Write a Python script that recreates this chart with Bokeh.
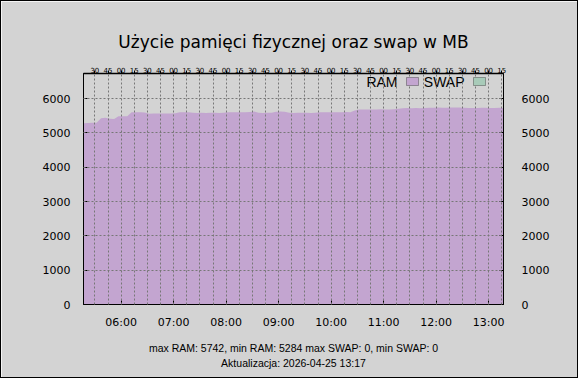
import pandas as pd
from bokeh.plotting import figure
from bokeh.models import (Range1d, DatetimeAxis, LinearAxis, FixedTicker, Title,
                          DatetimeTickFormatter, Label, BoxAnnotation, ColumnDataSource)
from bokeh.embed import file_html
from bokeh.resources import INLINE

# ---------------- data ----------------
title_text = "Użycie pamięci fizycznej oraz swap w MB"
day = "2026-04-25"
start_time = "05:17"
end_time = "13:17"
sample_step = "5min"

ram_mb = [
    5284, 5290, 5292, 5298, 5425, 5440, 5410, 5406, 5482, 5486,
    5488, 5598, 5603, 5601, 5596, 5558, 5562, 5566, 5561, 5564,
    5567, 5572, 5601, 5604, 5598, 5583, 5580, 5585, 5582, 5586,
    5584, 5581, 5590, 5600, 5598, 5602, 5600, 5603, 5605, 5621,
    5586, 5582, 5585, 5584, 5618, 5622, 5616, 5584, 5582, 5586,
    5583, 5585, 5581, 5590, 5598, 5601, 5603, 5600, 5604, 5602,
    5605, 5603, 5655, 5678, 5682, 5679, 5684, 5681, 5685, 5680,
    5683, 5686, 5702, 5721, 5724, 5718, 5722, 5719, 5725, 5731,
    5735, 5738, 5733, 5730, 5736, 5742, 5739, 5734, 5728, 5724,
    5727, 5733, 5729, 5724, 5726, 5730, 5728,
]
swap_mb = [0] * len(ram_mb)

hour_labels = ["06:00", "07:00", "08:00", "09:00", "10:00", "11:00", "12:00", "13:00"]
y_ticks = [0, 1000, 2000, 3000, 4000, 5000, 6000]
y_max = 6730

stats_line = "max RAM: 5742, min RAM: 5284 max SWAP: 0, min SWAP: 0"
update_line = "Aktualizacja: 2026-04-25 13:17"

# ---------------- styles ----------------
BG = "#d3d3d3"
RAM_C = "#c3a5d0"
SWAP_C = "#a8cbb9"
GRID_C = "#777777"

t0 = pd.Timestamp(f"{day} {start_time}")
t1 = pd.Timestamp(f"{day} {end_time}")
times = pd.date_range(t0, t1, freq=sample_step)
src = ColumnDataSource(dict(t=times, ram=ram_mb, swap=swap_mb))


def ms(ts):
    return ts.value // 10**6


hour_ms = [ms(pd.Timestamp(f"{day} {h}")) for h in hour_labels]
quarter_ms = [ms(t) for t in pd.date_range(pd.Timestamp(f"{day} 05:30"),
                                            pd.Timestamp(f"{day} 13:15"), freq="15min")]

p = figure(width=578, height=378, x_axis_type="datetime",
           x_range=Range1d(t0, t1), y_range=Range1d(0, y_max),
           output_backend="svg", toolbar_location=None,
           min_border_left=82, min_border_right=76,
           min_border_top=72, min_border_bottom=75,
           background_fill_color=BG, border_fill_color=BG)
p.styles = {"border": "1px solid black"}
p.outline_line_color = "black"
p.outline_line_width = 1

p.varea(x="t", y1=0, y2="ram", source=src, fill_color=RAM_C, fill_alpha=1)
p.varea(x="t", y1=0, y2="swap", source=src, fill_color=SWAP_C, fill_alpha=1)

fmt_bottom = DatetimeTickFormatter(hours="%H:%M", hourmin="%H:%M", minutes="%H:%M",
                                   minsec="%H:%M", seconds="%H:%M", days="%H:%M")
fmt_top = DatetimeTickFormatter(hours="%M", hourmin="%M", minutes="%M",
                                minsec="%M", seconds="%M", days="%M")

# title
p.title.text = title_text
p.title.align = "center"
p.title.text_font = "DejaVu Sans"
p.title.text_font_size = "17px"
p.title.text_font_style = "normal"
p.title.text_color = "black"
p.title.standoff = 23

# bottom axis
xa = p.xaxis[0]
xa.ticker = FixedTicker(ticks=hour_ms, minor_ticks=[])
xa.formatter = fmt_bottom
xa.major_tick_in = 4
xa.major_tick_out = 0
xa.minor_tick_line_color = None
xa.major_label_standoff = 11
xa.major_label_text_font = "DejaVu Sans"
xa.major_label_text_font_size = "11px"
xa.major_label_text_color = "black"
xa.axis_line_color = "black"

# top axis
ta = DatetimeAxis(ticker=FixedTicker(ticks=quarter_ms, minor_ticks=[]), formatter=fmt_top)
ta.major_tick_in = 0
ta.major_tick_out = 3
ta.minor_tick_line_color = None
ta.major_label_standoff = -2
ta.major_label_text_font = "DejaVu Sans"
ta.major_label_text_font_size = "7px"
ta.major_label_text_color = "black"
ta.axis_line_color = "black"
ta.axis_line_width = 1.5
p.add_layout(ta, "above")

# left / right axes
ya = p.yaxis[0]
ya.ticker = FixedTicker(ticks=y_ticks, minor_ticks=[])
ya.major_tick_in = 4
ya.major_tick_out = 0
ya.minor_tick_line_color = None
ya.major_label_standoff = 13
ya.major_label_text_font = "DejaVu Sans"
ya.major_label_text_font_size = "11px"
ya.major_label_text_color = "black"
ya.axis_line_color = "black"

ra = LinearAxis(ticker=FixedTicker(ticks=y_ticks, minor_ticks=[]))
ra.major_tick_in = 4
ra.major_tick_out = 0
ra.minor_tick_line_color = None
ra.major_label_standoff = 18
ra.major_label_text_font = "DejaVu Sans"
ra.major_label_text_font_size = "11px"
ra.major_label_text_color = "black"
ra.axis_line_color = "black"
p.add_layout(ra, "right")

# grids
p.xgrid.ticker = FixedTicker(ticks=quarter_ms)
p.ygrid.ticker = FixedTicker(ticks=y_ticks[1:])
for g in (p.xgrid[0], p.ygrid[0]):
    g.grid_line_color = GRID_C
    g.grid_line_dash = "2 2"
    g.grid_line_width = 1
    g.level = "overlay"

# legend (gnuplot style: text then swatch)
leg_font = "Liberation Sans"
p.add_layout(Label(x=314, y=223, x_units="screen", y_units="screen", text="RAM",
                   text_align="right", text_baseline="middle",
                   text_font=leg_font, text_font_size="14px", text_color="black"))
p.add_layout(BoxAnnotation(left=323, right=335, top=227, bottom=219,
                           left_units="screen", right_units="screen",
                           top_units="screen", bottom_units="screen",
                           fill_color=RAM_C, fill_alpha=1, line_color="black",
                           line_width=1, level="overlay"))
p.add_layout(Label(x=381, y=223, x_units="screen", y_units="screen", text="SWAP",
                   text_align="right", text_baseline="middle",
                   text_font=leg_font, text_font_size="14px", text_color="black"))
p.add_layout(BoxAnnotation(left=390, right=402, top=227, bottom=219,
                           left_units="screen", right_units="screen",
                           top_units="screen", bottom_units="screen",
                           fill_color=SWAP_C, fill_alpha=1, line_color="black",
                           line_width=1, level="overlay"))

# footer (two centred lines below the time axis)
for txt, so in ((stats_line, 16), (update_line, -15)):
    p.add_layout(Title(text=txt, align="center", text_font="Liberation Sans",
                       text_font_size="10.5px", text_font_style="normal",
                       text_color="black", standoff=so), "below")

open("out.html", "w").write(file_html(p, INLINE))
